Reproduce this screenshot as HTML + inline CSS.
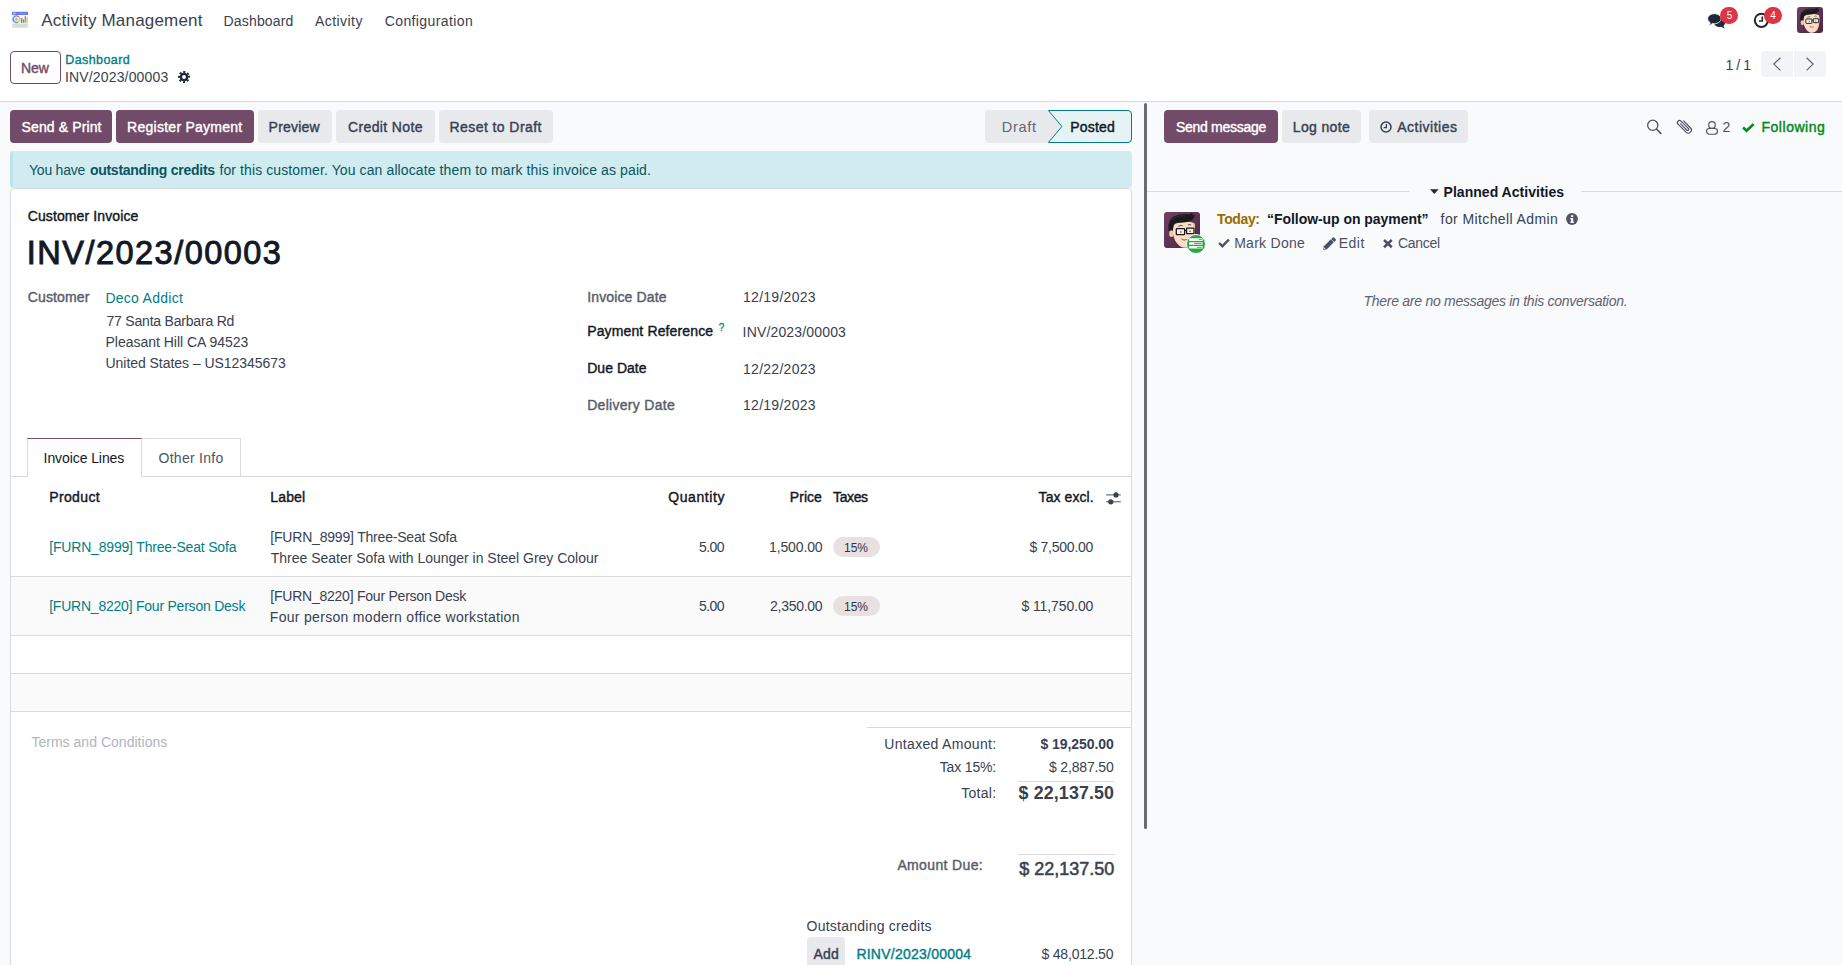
<!DOCTYPE html>
<html lang="en">
<head>
<meta charset="utf-8">
<title>Odoo - INV/2023/00003</title>
<style>
html,body{margin:0;padding:0;}
body{width:1842px;height:965px;overflow:hidden;position:relative;background:#f9fafb;font-family:"Liberation Sans",sans-serif;font-size:14px;line-height:20px;color:#374151;}
body *{box-sizing:border-box;}
nav,header,main,aside,section,div,button,a,table{position:absolute;margin:0;padding:0;}
button{font:inherit;border:0;display:block;}
h1{margin:0;font-weight:inherit;}
.t{position:absolute;white-space:nowrap;line-height:20px;}
.i{position:absolute;overflow:visible;}
a{color:#017e84;text-decoration:none;}
.btn{border-radius:4px;}
.btn-primary{background:#714b67;color:#fff;}
.btn-secondary{background:#e7e9ed;color:#374151;}
.hr{background:#d8dadd;height:1px;}
.b{-webkit-text-stroke:0.029em currentColor;}
.bb{font-weight:700;}

</style>
</head>
<body>
<nav style="left:0px;top:0px;width:1842px;height:40px;background:#fff;">
<svg class="i" style="left:11px;top:11px;" width="18" height="18" viewBox="0 0 18 18">
<rect x="1" y="3.500" width="16" height="9.200" fill="#f6f6fb"/>
<rect x="1.200" y="12.400" width="15.700" height="4.400" rx=".8" fill="#dadadd"/>
<rect x=".8" y=".7" width="16.400" height="3.200" rx="1.200" fill="#6b78f0"/>
<rect x="1.900" y="1.650" width="3.200" height="1.100" rx=".4" fill="#cfd4fc"/>
<rect x="8.200" y="1.950" width="7" height=".6" rx=".3" fill="#97a1f7"/>
<g fill="none" stroke-width="1.300">
<circle cx="5.400" cy="8.200" r="3.250" stroke="#f0603a" stroke-dasharray="2.550 17.870" transform="rotate(-90 5.400 8.200)"/>
<circle cx="5.400" cy="8.200" r="3.250" stroke="#f7c92b" stroke-dasharray="5.960 14.460" transform="rotate(-45 5.400 8.200)"/>
<circle cx="5.400" cy="8.200" r="3.250" stroke="#2fb57c" stroke-dasharray="4.250 16.170" transform="rotate(60 5.400 8.200)"/>
<circle cx="5.400" cy="8.200" r="3.250" stroke="#6b7cf5" stroke-dasharray="7.660 12.760" transform="rotate(135 5.400 8.200)"/>
</g>
<circle cx="5.400" cy="8.200" r="1.500" fill="#b6b6bf"/>
<rect x="9.900" y="7" width="1.500" height="4.700" rx=".5" fill="#2fb57c"/>
<rect x="11.800" y="8.200" width="1.300" height="3.500" rx=".5" fill="#f0603a"/>
<rect x="13.600" y="5" width="1.400" height="6.700" rx=".5" fill="#7b8af7"/>
<rect x="15.300" y="6" width="1.500" height="5.700" rx=".5" fill="#f9d02f"/>
</svg>
<span class="t" style="left:41.30px;top:11.00px;font-size:17px;color:#374151;letter-spacing:0.185px;">Activity Management</span>
<span class="t" style="left:223.60px;top:11.00px;color:#374151;letter-spacing:0.160px;">Dashboard</span>
<span class="t" style="left:315.00px;top:11.00px;color:#374151;letter-spacing:0.436px;">Activity</span>
<span class="t" style="left:384.70px;top:11.00px;color:#374151;letter-spacing:0.400px;">Configuration</span>
<svg class="i" style="left:1707px;top:13px;" width="19" height="16" viewBox="0 0 19 16">
<ellipse cx="12.600" cy="9.600" rx="5.600" ry="4.300" fill="#1f2937"/>
<path d="M13.800 13.300c1 1 2.300 1.800 4 2-.900-.900-1.300-2-1.400-3.200z" fill="#1f2937"/>
<path d="M7.400.7c3.700 0 6.700 2.250 6.700 5s-3 5-6.700 5c-.700 0-1.400-.1-2-.2-.900.9-2 1.700-3.500 2 .8-.8 1.200-1.800 1.300-2.800C1.600 8.800.7 7.300.7 5.700c0-2.750 3-5 6.700-5z" fill="#1f2937" stroke="#fff" stroke-width=".8"/>
</svg>
<div style="left:1720.2px;top:6.8px;width:17.7px;height:17.4px;background:#dc3545;border-radius:9px;">
</div>
<span class="t" style="left:1726.70px;top:6.00px;font-size:10px;color:#fff;letter-spacing:0.000px;">5</span>
<svg class="i" style="left:1753px;top:12px;" width="17" height="17" viewBox="0 0 17 17">
<circle cx="8.400" cy="8.300" r="6.600" fill="none" stroke="#1f2937" stroke-width="2"/>
<path d="M9.300 4.600v4.400H6" fill="none" stroke="#1f2937" stroke-width="1.600"/>
</svg>
<div style="left:1764.2px;top:6.8px;width:17.7px;height:17.4px;background:#dc3545;border-radius:9px;">
</div>
<span class="t" style="left:1770.20px;top:6.00px;font-size:10px;color:#fff;letter-spacing:0.000px;">4</span>
<svg class="i" style="left:1797px;top:7px;" width="26" height="26" viewBox="0 0 36 36">
<defs>
<linearGradient id="avg1" x1="0" y1="0" x2="1" y2="1">
<stop offset="0" stop-color="#6f4063"/>
<stop offset="1" stop-color="#4c2541"/>
</linearGradient>
</defs>
<rect width="36" height="36" rx="4.15385" fill="url(#avg1)"/>
<ellipse cx="7.400" cy="21.800" rx="2.200" ry="3.300" fill="#f5cbb0"/>
<path d="M9 13.500C8.200 22 9.800 30 16.500 34.600 19.500 36.600 25 36.300 27.800 32 30.600 27.500 31.800 19 30.500 11.500 24 8.500 14 9 9 13.500z" fill="#fbdcc5"/>
<path d="M27.800 32C30.600 27.500 31.800 19 30.500 11.500L29 12c1 7 .2 15-3.500 21.500z" fill="#eec0a3" opacity=".7"/>
<path d="M4.700 19.200C3.300 10 7 3.600 16 2.500 21 1.800 25.200 2.900 28.400.9 28.200 2.500 29 3.100 30.900 3 30.200 6.200 28 8.700 25 9.500 20 11 14 10.500 10.500 11.600 9.500 14 9.300 16.500 8.700 18.700 7.500 17.600 6 17.800 4.700 19.200z" fill="#1b1b1d"/>
<path d="M8 8c3-3.500 8-4.500 13-4" stroke="#4a4a4e" stroke-width=".8" fill="none" opacity=".6"/>
<rect x="12.300" y="16.600" width="8.300" height="6.100" rx=".7" fill="#fff" fill-opacity=".55" stroke="#1a1a1a" stroke-width="1.300"/>
<rect x="22.600" y="16.200" width="7.400" height="5.500" rx=".7" fill="#fff" fill-opacity=".55" stroke="#1a1a1a" stroke-width="1.300"/>
<path d="M20.600 18.600 22.600 18.300" stroke="#1a1a1a" stroke-width="1.100"/>
<circle cx="16.900" cy="19.900" r=".75" fill="#2b2b2b"/>
<circle cx="26" cy="19.300" r=".75" fill="#2b2b2b"/>
<path d="M14.300 14.400Q16.500 12.900 18.600 13.700M24 12.900Q25.600 12.100 27.200 13" stroke="#222" stroke-width=".8" fill="none"/>
<path d="M17.400 26.900Q20 29.900 23.200 27.500 20 28.100 17.400 26.900z" fill="#fff" stroke="#7a3b2e" stroke-width=".5"/>
</svg>
</nav>
<header style="left:0px;top:40px;width:1842px;height:62px;background:#fff;border-bottom:1px solid #d8dadd;">
<button class="btn" style="left:10px;top:11px;width:51px;height:33px;background:#fff;border:1px solid #714b67;color:#714b67;">
<span class="t b" style="left:9.90px;top:6.00px;color:#714b67;letter-spacing:-0.009px;">New</span>
</button>
<a class="t b" style="left:65.28px;top:10.00px;font-size:12.5px;color:#017e84;letter-spacing:0.416px;">Dashboard</a>
<span class="t" style="left:64.90px;top:27.00px;color:#374151;letter-spacing:0.168px;">INV/2023/00003</span>
<svg class="i" style="left:177.5px;top:31.2px;" width="12" height="12" viewBox="0 0 12 12">
<circle cx="6" cy="6" r="5" fill="none" stroke="#1f2937" stroke-width="2" stroke-dasharray="2.050 1.877" transform="rotate(-15 6 6)"/>
<circle cx="6" cy="6" r="3.150" fill="none" stroke="#1f2937" stroke-width="2.300"/>
</svg>
<span class="t" style="left:1725.60px;top:15.00px;color:#374151;letter-spacing:-0.466px;">1 / 1</span>
<button style="left:1761px;top:11px;width:32px;height:26px;background:#f3f4f6;border-radius:4px 0 0 4px;">
</button>
<button style="left:1794px;top:11px;width:32px;height:26px;background:#f3f4f6;border-radius:0 4px 4px 0;">
</button>
<svg class="i" style="left:1773px;top:17px;" width="8" height="14" viewBox="0 0 8 14">
<path d="M7.400.8.900 7.100l6.500 6.300" fill="none" stroke="#5f636f" stroke-width="1.200"/>
</svg>
<svg class="i" style="left:1806px;top:17px;" width="8" height="14" viewBox="0 0 8 14">
<path d="M.6.8 7.100 7.100.6 13.400" fill="none" stroke="#5f636f" stroke-width="1.200"/>
</svg>
</header>
<main style="left:0px;top:101px;width:1147px;height:864px;">
<button class="btn btn-primary" style="left:10px;top:9px;width:102px;height:33px;">
<span class="t b" style="left:11.50px;top:7.00px;color:#fff;letter-spacing:0.126px;">Send &amp; Print</span>
</button>
<button class="btn btn-primary" style="left:116px;top:9px;width:138px;height:33px;">
<span class="t b" style="left:11.10px;top:7.00px;color:#fff;letter-spacing:0.260px;">Register Payment</span>
</button>
<button class="btn btn-secondary" style="left:258px;top:9px;width:74px;height:33px;">
<span class="t b" style="left:10.60px;top:7.00px;color:#374151;letter-spacing:0.200px;">Preview</span>
</button>
<button class="btn btn-secondary" style="left:336px;top:9px;width:99px;height:33px;">
<span class="t b" style="left:12.00px;top:7.00px;color:#374151;letter-spacing:0.377px;">Credit Note</span>
</button>
<button class="btn btn-secondary" style="left:439px;top:9px;width:114px;height:33px;">
<span class="t b" style="left:10.60px;top:7.00px;color:#374151;letter-spacing:0.416px;">Reset to Draft</span>
</button>
<div style="left:985px;top:9px;width:78px;height:33px;background:#e7e9ed;border-radius:4px 0 0 4px;">
</div>
<span class="t" style="left:1001.70px;top:16.00px;font-size:14.6px;color:#626777;letter-spacing:0.707px;">Draft</span>
<svg class="i" style="left:1047px;top:9px;" width="85" height="33" viewBox="0 0 85 33">
<path d="M1.400.500H81a3.500 3.500 0 0 1 3.500 3.500V29a3.500 3.500 0 0 1-3.500 3.500H1.400L14.900 16.500z" fill="#e6f2f3" stroke="#017e84" stroke-width="1"/>
</svg>
<span class="t b" style="left:1070.30px;top:16.00px;color:#111827;letter-spacing:0.178px;">Posted</span>
<div style="left:10px;top:50px;width:1122px;height:37px;background:#d1ecf1;border-radius:4px;color:#0c5460;overflow:hidden;">
<div style="left:0px;top:0px;width:3px;height:37px;background:#bce4eb;">
</div>
<span class="t" style="left:19.00px;top:9.00px;color:#0c5460;letter-spacing:-0.228px;">You have</span>
<span class="t bb" style="left:79.90px;top:9.00px;color:#0c5460;letter-spacing:-0.262px;">outstanding credits</span>
<span class="t" style="left:209.40px;top:9.00px;color:#0c5460;letter-spacing:0.107px;">for this customer. You can allocate them to mark this invoice as paid.</span>
</div>
<section style="left:10px;top:87px;width:1122px;height:790px;background:#fff;border:1px solid #d8dadd;border-radius:4px 4px 0 0;">
<span class="t b" style="left:16.70px;top:17.00px;color:#111827;letter-spacing:0.116px;">Customer Invoice</span>
<h1 class="t b" style="left:15.87px;top:54.00px;font-size:32.5px;color:#111827;letter-spacing:1.470px;">INV/2023/00003</h1>
<span class="t b" style="left:16.80px;top:98.00px;color:#585d6b;letter-spacing:0.123px;">Customer</span>
<a class="t" style="left:94.40px;top:99.00px;color:#017e84;letter-spacing:0.277px;">Deco Addict</a>
<span class="t" style="left:95.50px;top:122.00px;color:#374151;letter-spacing:-0.203px;">77 Santa Barbara Rd</span>
<span class="t" style="left:94.50px;top:143.00px;color:#374151;letter-spacing:-0.016px;">Pleasant Hill CA 94523</span>
<span class="t" style="left:94.50px;top:164.00px;color:#374151;letter-spacing:-0.043px;">United States – US12345673</span>
<span class="t b" style="left:576.20px;top:98.00px;color:#585d6b;letter-spacing:0.142px;">Invoice Date</span>
<span class="t" style="left:732.00px;top:98.00px;color:#374151;letter-spacing:0.279px;">12/19/2023</span>
<span class="t b" style="left:576.20px;top:132.00px;color:#111827;letter-spacing:0.134px;">Payment Reference</span>
<span class="t b" style="left:707.75px;top:129.00px;font-size:10px;color:#017e84;letter-spacing:0.000px;">?</span>
<span class="t" style="left:731.60px;top:133.00px;color:#374151;letter-spacing:0.160px;">INV/2023/00003</span>
<span class="t b" style="left:576.20px;top:169.00px;color:#111827;letter-spacing:0.033px;">Due Date</span>
<span class="t" style="left:732.00px;top:170.00px;color:#374151;letter-spacing:0.279px;">12/22/2023</span>
<span class="t b" style="left:576.20px;top:206.00px;color:#585d6b;letter-spacing:0.295px;">Delivery Date</span>
<span class="t" style="left:732.00px;top:206.00px;color:#374151;letter-spacing:0.279px;">12/19/2023</span>
<div class="hr" style="left:0px;top:287px;width:1120px;height:1px;">
</div>
<div style="left:131px;top:249px;width:99px;height:38px;border:1px solid #d8dadd;border-left:0;border-bottom:0;background:#fff;">
</div>
<div style="left:16px;top:249px;width:115px;height:39px;border:1px solid #d8dadd;border-top-color:#714b67;border-bottom:0;background:#fff;">
</div>
<span class="t" style="left:32.60px;top:259.00px;color:#111827;letter-spacing:-0.085px;">Invoice Lines</span>
<span class="t" style="left:147.50px;top:259.00px;color:#4b5563;letter-spacing:0.280px;">Other Info</span>
<span class="t b" style="left:38.20px;top:298.00px;color:#111827;letter-spacing:0.371px;">Product</span>
<span class="t b" style="left:259.20px;top:298.00px;color:#111827;letter-spacing:0.185px;">Label</span>
<span class="t b" style="left:657.20px;top:298.00px;color:#111827;letter-spacing:0.592px;">Quantity</span>
<span class="t b" style="left:778.80px;top:298.00px;color:#111827;letter-spacing:0.043px;">Price</span>
<span class="t b" style="left:822.00px;top:298.00px;color:#111827;letter-spacing:-0.371px;">Taxes</span>
<span class="t b" style="left:1027.60px;top:298.00px;color:#111827;letter-spacing:0.076px;">Tax excl.</span>
<svg class="i" style="left:1095px;top:302.5px;" width="15" height="13" viewBox="0 0 15 13">
<path d="M.1 2.900h14.700M.1 9.800h14.700" stroke="#374151" stroke-width=".9"/>
<circle cx="10" cy="2.900" r="2.600" fill="#374151"/>
<circle cx="4.800" cy="9.800" r="2.600" fill="#374151"/>
</svg>
<div class="hr" style="left:0px;top:387px;width:1120px;height:1px;">
</div>
<div style="left:0px;top:388px;width:1120px;height:58px;background:#fafafa;">
</div>
<div class="hr" style="left:0px;top:446px;width:1120px;height:1px;">
</div>
<div class="hr" style="left:0px;top:484px;width:1120px;height:1px;">
</div>
<div style="left:0px;top:485px;width:1120px;height:37px;background:#fafafa;">
</div>
<div class="hr" style="left:0px;top:522px;width:1120px;height:1px;">
</div>
<a class="t" style="left:38.20px;top:348.00px;color:#017e84;letter-spacing:-0.180px;">[FURN_8999] Three-Seat Sofa</a>
<span class="t" style="left:259.30px;top:338.00px;color:#374151;letter-spacing:-0.199px;">[FURN_8999] Three-Seat Sofa</span>
<span class="t" style="left:259.80px;top:359.00px;color:#374151;letter-spacing:-0.017px;">Three Seater Sofa with Lounger in Steel Grey Colour</span>
<span class="t" style="left:688.00px;top:348.00px;color:#374151;letter-spacing:-0.556px;">5.00</span>
<span class="t" style="left:758.00px;top:348.00px;color:#374151;letter-spacing:-0.131px;">1,500.00</span>
<div style="left:821.7px;top:348px;width:47px;height:20px;background:#e8e0e1;border-radius:10px;">
</div>
<span class="t" style="left:833.10px;top:349.00px;font-size:12px;color:#2f3541;letter-spacing:-0.126px;">15%</span>
<span class="t" style="left:1018.40px;top:348.00px;color:#374151;letter-spacing:-0.243px;">$ 7,500.00</span>
<a class="t" style="left:38.20px;top:407.00px;color:#017e84;letter-spacing:-0.226px;">[FURN_8220] Four Person Desk</a>
<span class="t" style="left:259.30px;top:397.00px;color:#374151;letter-spacing:-0.233px;">[FURN_8220] Four Person Desk</span>
<span class="t" style="left:258.80px;top:418.00px;color:#374151;letter-spacing:0.307px;">Four person modern office workstation</span>
<span class="t" style="left:688.00px;top:407.00px;color:#374151;letter-spacing:-0.556px;">5.00</span>
<span class="t" style="left:759.00px;top:407.00px;color:#374151;letter-spacing:-0.274px;">2,350.00</span>
<div style="left:821.7px;top:407px;width:47px;height:20px;background:#e8e0e1;border-radius:10px;">
</div>
<span class="t" style="left:833.10px;top:408.00px;font-size:12px;color:#2f3541;letter-spacing:-0.126px;">15%</span>
<span class="t" style="left:1010.40px;top:407.00px;color:#374151;letter-spacing:-0.095px;">$ 11,750.00</span>
<span class="t" style="left:20.40px;top:543.00px;color:#b1b5be;letter-spacing:0.026px;">Terms and Conditions</span>
<div class="hr" style="left:856px;top:538px;width:264px;height:1px;">
</div>
<span class="t" style="left:873.30px;top:545.00px;color:#374151;letter-spacing:0.320px;">Untaxed Amount:</span>
<span class="t bb" style="left:1029.60px;top:545.00px;color:#374151;letter-spacing:-0.088px;">$ 19,250.00</span>
<span class="t" style="left:928.80px;top:568.00px;color:#374151;letter-spacing:-0.173px;">Tax 15%:</span>
<span class="t" style="left:1038.00px;top:568.00px;color:#374151;letter-spacing:-0.165px;">$ 2,887.50</span>
<div class="hr" style="left:1007px;top:592px;width:96px;height:1px;">
</div>
<span class="t" style="left:950.20px;top:594.00px;color:#374151;letter-spacing:0.305px;">Total:</span>
<span class="t bb" style="left:1007.60px;top:594.00px;font-size:17.8px;color:#374151;letter-spacing:0.145px;">$ 22,137.50</span>
<div class="hr" style="left:1007px;top:665px;width:97px;height:1px;">
</div>
<span class="t b" style="left:886.40px;top:666.00px;color:#585d6b;letter-spacing:0.357px;">Amount Due:</span>
<span class="t b" style="left:1008.16px;top:670.00px;font-size:18px;color:#374151;letter-spacing:-0.000px;">$ 22,137.50</span>
<span class="t" style="left:795.50px;top:727.00px;color:#374151;letter-spacing:0.248px;">Outstanding credits</span>
<button class="btn btn-secondary" style="left:795.7px;top:747.7px;width:38px;height:34px;">
<span class="t b" style="left:6.70px;top:7.30px;color:#374151;letter-spacing:0.284px;">Add</span>
</button>
<a class="t b" style="left:845.40px;top:755.00px;color:#017e84;letter-spacing:0.241px;">RINV/2023/00004</a>
<span class="t" style="left:1030.50px;top:755.00px;color:#374151;letter-spacing:-0.198px;">$ 48,012.50</span>
</section>
<div style="left:1144px;top:2px;width:3px;height:725.5px;background:#6b6b6b;border-radius:1.5px;">
</div>
</main>
<aside style="left:1147px;top:101px;width:695px;height:864px;">
<button class="btn btn-primary" style="left:17px;top:9px;width:114px;height:33px;">
<span class="t b" style="left:12.00px;top:7.00px;color:#fff;letter-spacing:-0.293px;">Send message</span>
</button>
<button class="btn btn-secondary" style="left:135px;top:9px;width:79px;height:33px;">
<span class="t b" style="left:10.80px;top:7.00px;color:#374151;letter-spacing:0.353px;">Log note</span>
</button>
<button class="btn btn-secondary" style="left:222px;top:9px;width:99px;height:33px;">
<svg class="i" style="left:11.3px;top:10.8px;" width="12" height="12" viewBox="0 0 12 12">
<circle cx="6" cy="6" r="5" fill="none" stroke="#374151" stroke-width="1.500"/>
<path d="M6.400 3v3.600H3.700" fill="none" stroke="#374151" stroke-width="1.300"/>
</svg>
<span class="t b" style="left:28.20px;top:7.00px;color:#374151;letter-spacing:0.507px;">Activities</span>
</button>
<svg class="i" style="left:499px;top:18px;" width="16" height="16" viewBox="0 0 16 16">
<circle cx="6.750" cy="6.300" r="5.100" fill="none" stroke="#4b5162" stroke-width="1.300"/>
<path d="M10.700 10.300 14.800 14.400" stroke="#4b5162" stroke-width="1.600" stroke-linecap="round"/>
</svg>
<svg class="i" style="left:529px;top:17px;" width="17" height="17" viewBox="0 0 17 17">
<g transform="translate(8.500 8.200) rotate(-45)">
<path d="M3.100-4.300V5.300a3.100 3.100 0 0 1-6.200 0V-6.100a2.150 2.150 0 0 1 4.300 0V4.300a1.150 1.150 0 0 1-2.300 0V-4.300" fill="none" stroke="#4b5162" stroke-width="1.150" stroke-linecap="round"/>
</g>
</svg>
<svg class="i" style="left:558.5px;top:19.5px;" width="12" height="14" viewBox="0 0 12 14">
<rect x=".6" y="7.500" width="10.800" height="5.700" rx="2.600" fill="none" stroke="#4b5162" stroke-width="1.150"/>
<circle cx="6" cy="3.900" r="3.300" fill="#f9fafb" stroke="#4b5162" stroke-width="1.150"/>
</svg>
<span class="t" style="left:575.40px;top:16.00px;color:#4b5162;letter-spacing:0.000px;">2</span>
<svg class="i" style="left:595.4px;top:21.5px;" width="13" height="9" viewBox="0 0 13 9">
<path d="M1.100 4.500 4.600 7.800 11.600 1.100" fill="none" stroke="#008818" stroke-width="2.600"/>
</svg>
<span class="t b" style="left:614.50px;top:16.00px;color:#008818;letter-spacing:0.517px;">Following</span>
<div class="hr" style="left:0px;top:90px;width:261.5px;height:1px;">
</div>
<div class="hr" style="left:433.7px;top:90px;width:262px;height:1px;">
</div>
<svg class="i" style="left:282.7px;top:87.5px;" width="9" height="6" viewBox="0 0 9 6">
<path d="M0 .3h8.600L4.300 4.900z" fill="#1f2937"/>
</svg>
<span class="t bb" style="left:296.60px;top:81.00px;color:#111827;letter-spacing:0.024px;">Planned Activities</span>
<svg class="i" style="left:17px;top:111px;" width="36" height="36" viewBox="0 0 36 36">
<defs>
<linearGradient id="avg2" x1="0" y1="0" x2="1" y2="1">
<stop offset="0" stop-color="#6f4063"/>
<stop offset="1" stop-color="#4c2541"/>
</linearGradient>
</defs>
<rect width="36" height="36" rx="3" fill="url(#avg2)"/>
<ellipse cx="7.400" cy="21.800" rx="2.200" ry="3.300" fill="#f5cbb0"/>
<path d="M9 13.500C8.200 22 9.800 30 16.500 34.600 19.500 36.600 25 36.300 27.800 32 30.600 27.500 31.800 19 30.500 11.500 24 8.500 14 9 9 13.500z" fill="#fbdcc5"/>
<path d="M27.800 32C30.600 27.500 31.800 19 30.500 11.500L29 12c1 7 .2 15-3.500 21.500z" fill="#eec0a3" opacity=".7"/>
<path d="M4.700 19.200C3.300 10 7 3.600 16 2.500 21 1.800 25.200 2.900 28.400.9 28.200 2.500 29 3.100 30.900 3 30.200 6.200 28 8.700 25 9.500 20 11 14 10.500 10.500 11.600 9.500 14 9.300 16.500 8.700 18.700 7.500 17.600 6 17.800 4.700 19.200z" fill="#1b1b1d"/>
<path d="M8 8c3-3.500 8-4.500 13-4" stroke="#4a4a4e" stroke-width=".8" fill="none" opacity=".6"/>
<rect x="12.300" y="16.600" width="8.300" height="6.100" rx=".7" fill="#fff" fill-opacity=".55" stroke="#1a1a1a" stroke-width="1.300"/>
<rect x="22.600" y="16.200" width="7.400" height="5.500" rx=".7" fill="#fff" fill-opacity=".55" stroke="#1a1a1a" stroke-width="1.300"/>
<path d="M20.600 18.600 22.600 18.300" stroke="#1a1a1a" stroke-width="1.100"/>
<circle cx="16.900" cy="19.900" r=".75" fill="#2b2b2b"/>
<circle cx="26" cy="19.300" r=".75" fill="#2b2b2b"/>
<path d="M14.300 14.400Q16.500 12.900 18.600 13.700M24 12.900Q25.600 12.100 27.200 13" stroke="#222" stroke-width=".8" fill="none"/>
<path d="M17.400 26.900Q20 29.900 23.200 27.500 20 28.100 17.400 26.900z" fill="#fff" stroke="#7a3b2e" stroke-width=".5"/>
</svg>
<div style="left:38.6px;top:132.5px;width:20.8px;height:20.8px;background:#28a745;border:1.500px solid #f9fafb;border-radius:50%;">
</div>
<svg class="i" style="left:42px;top:137px;" width="14" height="11" viewBox="0 0 14 11">
<path d="M.1 1.600h13.500M.1 5.450h13.500M.1 9.300h13.500" stroke="#fff" stroke-width="2.600"/>
<path d="M9.800 1.600h3M5 5.450h7.800M7.800 9.300h5" stroke="#28a745" stroke-width=".9"/>
</svg>
<span class="t bb" style="left:70.00px;top:108.00px;color:#9a6b01;letter-spacing:-0.379px;">Today:</span>
<span class="t bb" style="left:120.00px;top:108.00px;color:#111827;letter-spacing:-0.050px;">“Follow-up on payment”</span>
<span class="t" style="left:293.60px;top:108.00px;color:#374151;letter-spacing:0.400px;">for Mitchell Admin</span>
<svg class="i" style="left:418.7px;top:112.1px;" width="12" height="12" viewBox="0 0 12 12">
<circle cx="6" cy="6" r="5.900" fill="#50556a"/>
<rect x="5" y="5" width="2.200" height="4.500" fill="#fff"/>
<rect x="4.200" y="5" width="2" height="1.200" fill="#fff"/>
<rect x="4.200" y="8.600" width="3.800" height="1.200" fill="#fff"/>
<rect x="5" y="2.200" width="2.200" height="1.800" fill="#fff"/>
</svg>
<svg class="i" style="left:71px;top:137px;" width="12" height="10" viewBox="0 0 12 10">
<path d="M1.100 5 4.400 8.200 10.900 1.500" fill="none" stroke="#4b5162" stroke-width="2.400"/>
</svg>
<span class="t" style="left:87.20px;top:132.00px;color:#4b5162;letter-spacing:0.264px;">Mark Done</span>
<svg class="i" style="left:175.5px;top:135.5px;" width="13.4" height="13" viewBox="0 0 13.4 13">
<g transform="translate(6.700 6.450) rotate(-45)" fill="#4b5162">
<path d="M-9.100 0-6.100-2.100H3.700V2.100H-6.100z"/>
<path d="M4.300-2.100H6.400a.9.9 0 0 1 .9.9V1.200a.9.9 0 0 1-.9.9H4.300z"/>
<path d="M-8 0-6.700-.9V.9z" fill="#f9fafb"/>
</g>
</svg>
<span class="t" style="left:191.70px;top:132.00px;color:#4b5162;letter-spacing:0.487px;">Edit</span>
<svg class="i" style="left:236.3px;top:137.8px;" width="10" height="9.4" viewBox="0 0 10 9.4">
<path d="M1 1 8.800 8.300M8.800 1 1 8.300" stroke="#4b5162" stroke-width="2.600"/>
</svg>
<span class="t" style="left:250.90px;top:132.00px;color:#4b5162;letter-spacing:-0.276px;">Cancel</span>
<span class="t" style="left:216.50px;top:190.00px;color:#5f636f;font-style:italic;letter-spacing:-0.271px;">There are no messages in this conversation.</span>
</aside>
</body>
</html>
